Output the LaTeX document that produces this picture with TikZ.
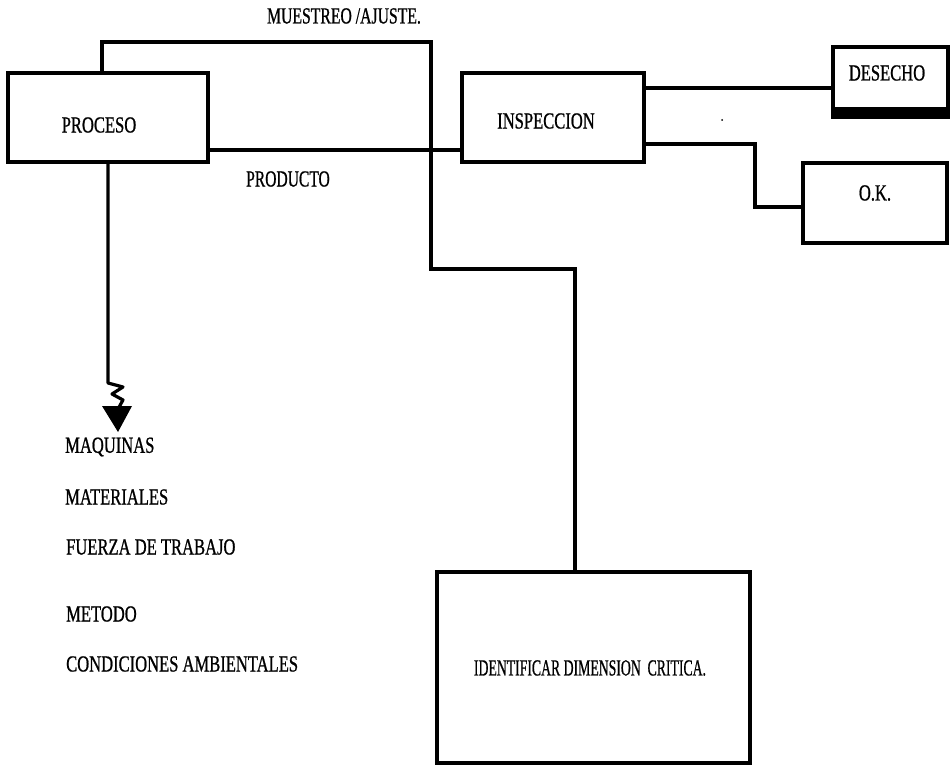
\documentclass[tikz,border=0pt]{standalone}
\usepackage{fontspec}
\setmainfont[FakeStretch=0.72,FakeBold=0.8]{Liberation Serif}
\begin{document}
\begin{tikzpicture}[x=1pt,y=-1pt,
  box/.style={draw,line width=3.2pt,inner sep=0pt},
  wire/.style={line width=3.2pt},
  lbl/.style={inner sep=0pt,font=\fontsize{23}{26}\selectfont},
  lst/.style={inner sep=0pt,anchor=west,font=\fontsize{23}{26}\selectfont}]
\useasboundingbox (0,0) rectangle (950,767);
% boxes
\node[box,minimum width=200pt,minimum height=89pt] (proc) at (108,117.5) {};
\node[box,minimum width=182pt,minimum height=89pt] (insp) at (553,117.5) {};
\node[box,minimum width=115pt,minimum height=70pt] (des) at (890.5,82) {};
\node[box,minimum width=144pt,minimum height=80pt] (ok) at (875,203) {};
\node[box,minimum width=313pt,minimum height=191pt] (idc) at (593.5,667.5) {};
\fill (des.south west) ++(0,-12) rectangle (des.south east);
% labels
\node[lbl] (tproc) at (99,125) {PROCESO};
\node[lbl] (tinsp) at (546,121) {INSPECCION};
\node[lbl] (tdes) at (887,73) {DESECHO};
\node[lbl] (tok) at (875,193) {O.K.};
\node[lbl] (tidc) at (590,668) {\scalebox{0.83}[1]{IDENTIFICAR DIMENSION\ \ CRITICA.}};
\node[lbl] (tmue) at (344,16) {\scalebox{0.95}[1]{MUESTREO /AJUSTE.}};
\node[lbl] (tprod) at (288,179) {\scalebox{0.94}[1]{PRODUCTO}};
\node[lst] (m1) at (65,447) {MAQUINAS};
\node[lst] (m2) at (65,497) {MATERIALES};
\node[lst] (m3) at (66,547) {FUERZA DE TRABAJO};
\node[lst] (m4) at (66,614) {METODO};
\node[lst] (m5) at (66,664) {CONDICIONES AMBIENTALES};
% connectors
\coordinate (c1) at (102,42);
\coordinate (c2) at (431,42);
\coordinate (c3) at (431,269);
\coordinate (c4) at (575,269);
\draw[wire,line join=miter] (proc.north -| c1) -- (c1) -- (c2) -- (c3) -- (c4) -- (c4 |- idc.north);
\draw[wire] (proc.east |- 0,150) -- (insp.west |- 0,150);
\draw[wire] (insp.east |- 0,88) -- (des.west |- 0,88);
\coordinate (k1) at (755,144);
\coordinate (k2) at (755,207);
\draw[wire,line join=miter] (insp.east |- k1) -- (k1) -- (k2) -- (ok.west |- k2);
\coordinate (a1) at (108,383);
\coordinate (a2) at (118,409);
\draw[wire,line join=round] (proc.south -| a1) -- (a1) -- (123,387) -- (112,394) -- (123,400) -- (a2);
\fill (102,406) -- (132,406) -- (118,432) -- cycle;
\fill (722,120) circle (1pt);
\end{tikzpicture}
\end{document}
